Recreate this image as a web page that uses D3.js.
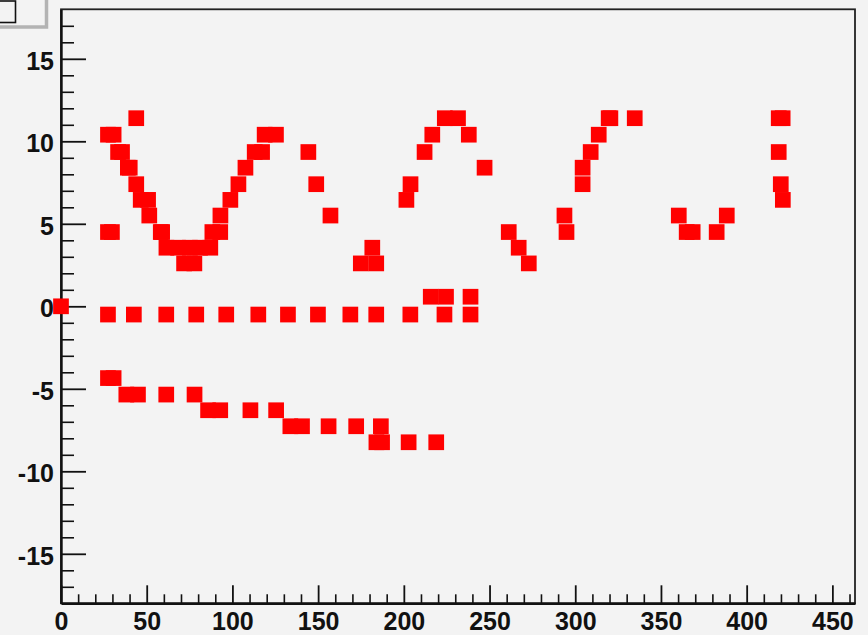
<!DOCTYPE html>
<html>
<head>
<meta charset="utf-8">
<script src="https://cdn.jsdelivr.net/npm/d3@7"></script>
<style>
  html, body { margin: 0; padding: 0; background: #f3f3f3; }
  svg { display: block; }
  .tick text { font-family: "Liberation Sans", Arial, sans-serif; font-weight: bold; font-size: 25px; fill: #111; }
</style>
</head>
<body>
<svg id="chart" width="868" height="635"></svg>
<script>
// Upper band (oscillating hits)
const xUpper = [27.4, 30.7, 43.9, 33.3, 35.6, 39.0, 40.1, 43.9, 46.5, 50.8, 51.5, 58.2, 59.0, 27.4, 29.7,
  61.5, 68.3, 75.2, 81.1, 87.1, 71.8, 77.8, 88.3, 92.9, 93.0, 98.8, 103.5, 107.6, 113.0, 117.3, 118.8, 125.4,
  144.3, 148.9, 157.2, 181.6, 174.9, 183.9, 203.9, 201.5, 212.1, 216.6, 223.9, 231.6, 237.9, 247.1,
  261.2, 267.0, 272.9, 293.7, 294.9, 304.3, 304.3, 309.0, 313.7, 319.5, 320.5, 334.7,
  360.4, 365.0, 368.5, 382.5, 388.4, 418.7, 421.0, 418.7, 419.9, 421.1];
const yUpper = [10.4, 10.4, 11.4, 9.35, 9.35, 8.4, 8.4, 7.4, 6.45, 6.45, 5.5, 4.5, 4.5, 4.5, 4.5,
  3.55, 3.55, 3.55, 3.55, 3.55, 2.6, 2.6, 4.5, 4.5, 5.5, 6.45, 7.4, 8.4, 9.35, 9.35, 10.4, 10.4,
  9.35, 7.4, 5.5, 3.55, 2.6, 2.6, 7.4, 6.45, 9.35, 10.4, 11.4, 11.4, 10.4, 8.4,
  4.5, 3.55, 2.6, 5.5, 4.5, 8.4, 7.4, 9.35, 10.4, 11.4, 11.4, 11.4,
  5.5, 4.5, 4.5, 4.5, 5.5, 11.4, 11.4, 9.35, 7.4, 6.45];

// Middle band (near zero)
const xMiddle = [0, 27.4, 42.5, 61.4, 78.9, 96.4, 115.1, 132.4, 149.9, 168.8, 183.9, 203.8, 223.7, 238.9,
  215.7, 224.6, 238.9];
const yMiddle = [0, -0.5, -0.5, -0.5, -0.5, -0.5, -0.5, -0.5, -0.5, -0.5, -0.5, -0.5, -0.5, -0.5,
  0.58, 0.58, 0.58];

// Lower band (descending)
const xLower = [27.4, 30.7, 38.1, 44.9, 61.4, 77.9, 85.8, 92.9, 110.5, 125.5,
  133.8, 140.6, 156.1, 172.2, 186.6, 184.0, 187.3, 202.8, 218.9];
const yLower = [-4.35, -4.35, -5.35, -5.35, -5.35, -5.35, -6.3, -6.3, -6.3, -6.3,
  -7.27, -7.27, -7.27, -7.27, -7.27, -8.24, -8.24, -8.24, -8.24];

const xTickValues = [0, 50, 100, 150, 200, 250, 300, 350, 400, 450];
const yTickValues = [-15, -10, -5, 0, 5, 10, 15];

const svg = d3.select("#chart");
const frame = { left: 61, right: 855, top: 9.3, bottom: 603.3 };

const x = d3.scaleLinear().domain([0, 463.2]).range([frame.left, frame.right]);
const y = d3.scaleLinear().domain([-18, 18]).range([frame.bottom, frame.top]);

// plain hyphen-minus labels
const fmt = d => String(d);

// Title box fragment in the top-left corner
svg.append("rect").attr("x", -10).attr("y", -10).attr("width", 56.5).attr("height", 37)
  .attr("fill", "#f3f3f3").attr("stroke", "#b3b3b3").attr("stroke-width", 3.5);
svg.append("rect").attr("x", -10).attr("y", 1).attr("width", 25.5).attr("height", 21.5)
  .attr("fill", "none").attr("stroke", "#111").attr("stroke-width", 1.6);

// Frame
svg.append("rect")
  .attr("x", frame.left).attr("y", frame.top)
  .attr("width", frame.right - frame.left).attr("height", frame.bottom - frame.top)
  .attr("fill", "#f3f3f3").attr("stroke", "#222").attr("stroke-width", 1.8);

// Minor ticks
const xMinor = d3.range(0, 461, 10).filter(v => v % 50 !== 0);
const yMinor = d3.range(-17, 18, 1).filter(v => v % 5 !== 0);

svg.append("g").attr("transform", `translate(0,${frame.bottom})`)
  .call(d3.axisBottom(x).tickValues(xMinor).tickFormat("").tickSizeInner(-9).tickSizeOuter(0))
  .call(g => g.select(".domain").remove())
  .call(g => g.selectAll("line").attr("stroke", "#111").attr("stroke-width", 1.6));

svg.append("g").attr("transform", `translate(${frame.left},0)`)
  .call(d3.axisLeft(y).tickValues(yMinor).tickFormat("").tickSizeInner(-13).tickSizeOuter(0))
  .call(g => g.select(".domain").remove())
  .call(g => g.selectAll("line").attr("stroke", "#111").attr("stroke-width", 1.6));

// Major axes
svg.append("g").attr("transform", `translate(0,${frame.bottom})`)
  .call(d3.axisBottom(x).tickValues(xTickValues).tickFormat(fmt)
    .tickSizeInner(-18).tickSizeOuter(0).tickPadding(9))
  .call(g => g.select(".domain").attr("stroke", "#111").attr("stroke-width", 2.4))
  .call(g => g.selectAll("line").attr("stroke", "#111").attr("stroke-width", 1.8))
  .call(g => g.selectAll("text").attr("dy", "0.7em"));

svg.append("g").attr("transform", `translate(${frame.left},0)`)
  .call(d3.axisLeft(y).tickValues(yTickValues).tickFormat(fmt)
    .tickSizeInner(-25).tickSizeOuter(0).tickPadding(7))
  .call(g => g.select(".domain").attr("stroke", "#111").attr("stroke-width", 2.4))
  .call(g => g.selectAll("line").attr("stroke", "#111").attr("stroke-width", 1.8))
  .call(g => g.selectAll("text").attr("dy", "0.42em"));

// Markers
const size = 15.7;
const points = [];
xUpper.forEach((v, i) => points.push([v, yUpper[i]]));
xMiddle.forEach((v, i) => points.push([v, yMiddle[i]]));
xLower.forEach((v, i) => points.push([v, yLower[i]]));

svg.append("g").selectAll("rect").data(points).join("rect")
  .attr("x", d => x(d[0]) - size / 2)
  .attr("y", d => y(d[1]) - size / 2)
  .attr("width", size).attr("height", size)
  .attr("fill", "#ff0000");
</script>
</body>
</html>
